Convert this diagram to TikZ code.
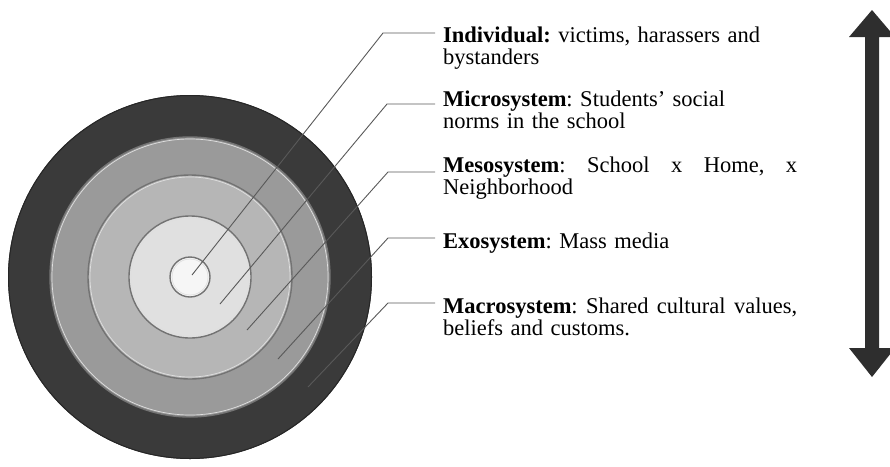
\documentclass[tikz,border=0pt]{standalone}
\usepackage{fontspec}
\setmainfont{Liberation Serif}
\frenchspacing
\definecolor{ringfive}{HTML}{3A3A3A}
\definecolor{ringfour}{HTML}{9A9A9A}
\definecolor{ringthree}{HTML}{B6B6B6}
\definecolor{ringtwo}{HTML}{E0E0E0}
\definecolor{ringone}{HTML}{F6F6F6}
\definecolor{arrowgray}{HTML}{2E2E2E}
\tikzset{
  leader/.style={draw=black!65, line width=0.9pt},
  infotext/.style={anchor=base west, inner xsep=8pt, inner ysep=0pt, text width=354pt,
    align=left, font=\fontsize{22.5pt}{22pt}\selectfont},
}
\begin{document}
\begin{tikzpicture}[x=1pt,y=-1pt]
    \useasboundingbox (0,0) rectangle (890,466);
    %draw rings
    \coordinate (c) at (190,277);
    \foreach \r/\col in {182/ringfive,140/ringfour,102/ringthree,61/ringtwo,20/ringone}
        {%
            \fill[\col] (c) circle (\r pt);
        }
    \draw[black!85, line width=1pt] (c) circle (181.5pt);
    \foreach \r in {140,102,61,20}
        {%
            \draw[black!55, line width=1.4pt] (c) circle (\r pt);
            \draw[white!75!gray, line width=0.7pt] (c) circle (\r pt - 2pt);
        }
    %draw text
    \node[infotext] (indiv) at (435,42) {\textbf{Individual:} victims, harassers and\\bystanders};
    \node[infotext] (micro) at (435,106) {\textbf{Microsystem}: Students' social\\norms in the school};
    \node[infotext] (meso) at (435,172) {\hbox to 354pt{\textbf{Mesosystem}:\hfill School\hfill x\hfill Home,\hfill x}\\Neighborhood};
    \node[infotext] (exo) at (435,248) {\textbf{Exosystem}: Mass media};
    \node[infotext] (macro) at (435,313) {\hbox to 354pt{\textbf{Macrosystem}:\hfill Shared\hfill cultural\hfill values,}\\beliefs and customs.};
    %draw leaders
    \coordinate (pin1) at (192,275);
    \coordinate (bend1) at (383,33);
    \coordinate (pin2) at (220,304);
    \coordinate (bend2) at (387,104);
    \coordinate (pin3) at (247,330);
    \coordinate (bend3) at (388,172);
    \coordinate (pin4) at (278,359);
    \coordinate (bend4) at (388,238);
    \coordinate (pin5) at (308,387);
    \coordinate (bend5) at (388,303);
    \foreach \i/\n in {1/indiv,2/micro,3/meso,4/exo,5/macro}
        {%
            \draw[leader] (pin\i) -- (bend\i) -- (bend\i -| \n.west);
        }
    %draw double arrow
    \fill[arrowgray] (872,10) -- (895,37) -- (879,37) -- (879,348) -- (895,348) -- (872,377)
        -- (849,348) -- (865,348) -- (865,37) -- (849,37) -- cycle;
\end{tikzpicture}
\end{document}
